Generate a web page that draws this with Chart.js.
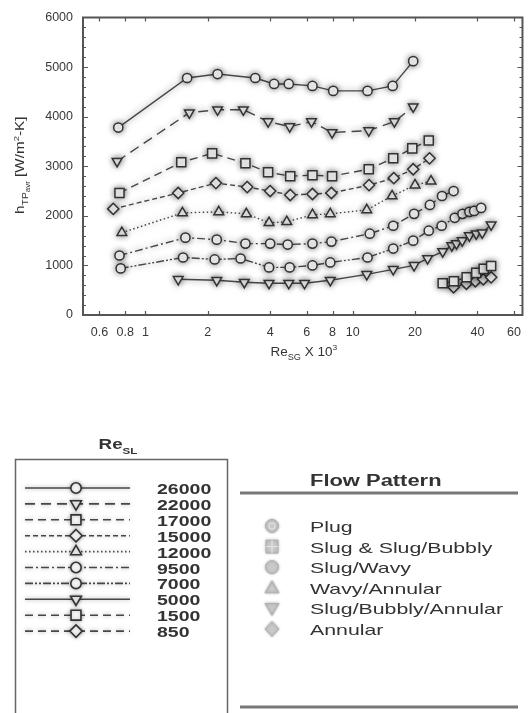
<!DOCTYPE html>
<html>
<head>
<meta charset="utf-8">
<script src="https://cdn.jsdelivr.net/npm/chart.js"></script>
<style>
  html, body { margin: 0; padding: 0; background: #fff; }
  #wrap { width: 531px; height: 713px; position: relative; }
</style>
</head>
<body>
<div id="wrap"><canvas id="c" width="531" height="713"></canvas></div>
<script>
const FONT = '"Liberation Sans", Arial, Helvetica, sans-serif';

// Liquid Reynolds numbers of the curves
const reSL = [26000, 22000, 17000, 15000, 12000, 9500, 7000, 5000, 1500, 850];

// Gas Reynolds number (x 10^3) and average two-phase heat transfer coefficient (W/m2-K)
const reSG_26000 = [0.74, 1.59, 2.23, 3.39, 4.18, 4.92, 6.4, 8.06, 11.8, 15.6, 19.6];
const h_26000    = [3780, 4780, 4860, 4780, 4660, 4660, 4620, 4520, 4520, 4620, 5120];

const reSG_22000 = [0.73, 1.63, 2.23, 2.97, 3.91, 4.97, 6.33, 7.96, 11.96, 15.9, 19.6];
const h_22000    = [3100, 4080, 4140, 4140, 3900, 3800, 3900, 3680, 3720, 3900, 4200];

const reSG_17000 = [0.75, 1.49, 2.1, 3.04, 3.91, 5.0, 6.4, 7.96, 11.96, 15.7, 19.4, 23.3];
const h_17000    = [2460, 3080, 3260, 3060, 2880, 2800, 2820, 2800, 2940, 3160, 3360, 3520];

const reSG_15000 = [0.70, 1.44, 2.19, 3.1, 4.0, 5.0, 6.4, 7.9, 12.0, 15.8, 19.6, 23.5];
const h_15000    = [2140, 2460, 2660, 2580, 2500, 2420, 2440, 2460, 2620, 2760, 2940, 3160];

const reSG_12000 = [0.77, 1.51, 2.26, 3.07, 3.95, 4.81, 6.4, 7.8, 11.7, 15.5, 20.0, 23.9];
const h_12000    = [1660, 2060, 2080, 2040, 1860, 1880, 2020, 2040, 2120, 2400, 2620, 2700];

const reSG_9500  = [0.75, 1.56, 2.21, 3.04, 4.0, 4.86, 6.4, 7.9, 12.1, 15.7, 19.8, 23.6, 27.0, 30.7];
const h_9500     = [1200, 1560, 1520, 1440, 1440, 1420, 1440, 1480, 1640, 1800, 2040, 2220, 2400, 2500];

const reSG_7000  = [0.76, 1.52, 2.16, 2.88, 3.95, 4.97, 6.4, 7.8, 11.8, 15.7, 19.6, 23.3, 26.9, 31.1, 33.9, 36.6, 38.6, 41.7];
const h_7000     = [940, 1160, 1120, 1140, 960, 960, 1000, 1060, 1160, 1340, 1500, 1700, 1800, 1960, 2040, 2080, 2100, 2160];

const reSG_5000  = [1.44, 2.21, 3.0, 3.95, 4.92, 5.86, 7.8, 11.7, 15.7, 19.8, 23.0, 27.2, 30.1, 31.7, 33.8, 36.6, 39.5, 42.2, 46.6];
const h_5000     = [720, 700, 660, 640, 640, 640, 700, 820, 920, 1000, 1140, 1280, 1400, 1440, 1500, 1600, 1640, 1660, 1820];

const reSG_1500  = [27.2, 30.8, 35.5, 39.5, 42.9, 46.6];
const h_1500     = [640, 680, 760, 850, 930, 990];

const reSG_850   = [30.7, 35.4, 39.1, 42.7, 46.6];
const h_850      = [560, 630, 680, 720, 760];

// Axis ticks
const xTicks = [0.6, 0.8, 1, 2, 4, 6, 8, 10, 20, 40, 60];
const yTicks = [0, 1000, 2000, 3000, 4000, 5000, 6000];

// Flow pattern categories
const flowPatterns = ['Plug', 'Slug & Slug/Bubbly', 'Slug/Wavy', 'Wavy/Annular', 'Slug/Bubbly/Annular', 'Annular'];

// ---- styling ----
const seriesX = [reSG_26000, reSG_22000, reSG_17000, reSG_15000, reSG_12000, reSG_9500, reSG_7000, reSG_5000, reSG_1500, reSG_850];
const seriesH = [h_26000, h_22000, h_17000, h_15000, h_12000, h_9500, h_7000, h_5000, h_1500, h_850];
const markerStyle = ['circle', 'triangle', 'rect', 'rectRot', 'triangle', 'circle', 'circle', 'triangle', 'rect', 'rectRot'];
const markerRot   = [0, 180, 0, 0, 0, 0, 0, 180, 0, 0];
const lineDash    = [[], [10, 6], [8, 5], [5, 3], [1.5, 2.5], [8, 3, 2, 3], [8, 2, 2, 2, 2, 2], [], [8, 5], [8, 5]];
const markerSize  = { circle: 4.6, triangle: 5.6, rect: 6.4, rectRot: 5.6 };
const flowShapes  = ['gear', 'rect', 'circle', 'triUp', 'triDown', 'diamond'];

const LINE = '#474747';
const INK = '#333';

const datasets = reSL.map((re, i) => ({
  label: String(re),
  data: seriesX[i].map((x, k) => ({ x: x, y: seriesH[i][k] })),
  borderColor: LINE,
  borderWidth: 1.4,
  borderDash: lineDash[i],
  pointStyle: markerStyle[i],
  rotation: markerRot[i],
  pointRadius: markerSize[markerStyle[i]],
  pointBorderWidth: 1.5,
  pointBorderColor: INK,
  pointBackgroundColor: '#fff',
  fill: false,
  tension: 0
}));

// soft grey halo around curves and symbols
const glow = {
  id: 'glow',
  beforeDatasetDraw(chart) {
    const c = chart.ctx;
    c.save();
    c.shadowColor = 'rgba(0,0,0,0.5)';
    c.shadowBlur = 6;
  },
  afterDatasetDraw(chart) { chart.ctx.restore(); }
};

function markerPath(ctx, style, rot, x, y, r) {
  ctx.beginPath();
  if (style === 'circle') {
    ctx.arc(x, y, r, 0, Math.PI * 2);
  } else if (style === 'triangle') {
    for (let i = 0; i < 3; i++) {
      const a = (rot ? Math.PI : 0) + i * 2 * Math.PI / 3;
      const vx = x + Math.sin(a) * r, vy = y - Math.cos(a) * r;
      if (i) ctx.lineTo(vx, vy); else ctx.moveTo(vx, vy);
    }
    ctx.closePath();
  } else if (style === 'rect') {
    const s = r * Math.SQRT1_2;
    ctx.rect(x - s, y - s, 2 * s, 2 * s);
  } else if (style === 'rectRot') {
    ctx.moveTo(x, y - r); ctx.lineTo(x + r, y); ctx.lineTo(x, y + r); ctx.lineTo(x - r, y);
    ctx.closePath();
  }
}

// text made of runs (sub/superscripts), centred on (x, y) baseline
function richText(ctx, parts, x, y, size, weight, sx, rot) {
  ctx.save();
  ctx.translate(x, y);
  if (rot) ctx.rotate(rot);
  ctx.scale(sx, 1);
  let total = 0;
  parts.forEach(p => {
    ctx.font = `${weight} ${size * p.k}px ${FONT}`;
    p.w = ctx.measureText(p.t).width;
    total += p.w;
  });
  let cx = -total / 2;
  ctx.textAlign = 'left';
  ctx.textBaseline = 'alphabetic';
  parts.forEach(p => {
    ctx.font = `${weight} ${size * p.k}px ${FONT}`;
    ctx.fillText(p.t, cx, p.dy * size);
    cx += p.w;
  });
  ctx.restore();
}

function wideText(ctx, text, x, y, font, sx) {
  ctx.save();
  ctx.translate(x, y);
  ctx.scale(sx, 1);
  ctx.font = font;
  ctx.textAlign = 'left';
  ctx.textBaseline = 'alphabetic';
  ctx.fillText(text, 0, 0);
  ctx.restore();
}

function flowSymbol(ctx, shape, x, y) {
  ctx.save();
  ctx.fillStyle = '#c9c9c9';
  ctx.strokeStyle = '#b0b0b0';
  ctx.lineWidth = 1;
  ctx.shadowColor = 'rgba(0,0,0,0.25)';
  ctx.shadowBlur = 3;
  ctx.beginPath();
  if (shape === 'gear' || shape === 'circle') {
    ctx.arc(x, y, 6.5, 0, Math.PI * 2);
  } else if (shape === 'rect') {
    ctx.rect(x - 6, y - 6.5, 12, 13);
  } else if (shape === 'triUp') {
    ctx.moveTo(x, y - 7); ctx.lineTo(x + 7, y + 5); ctx.lineTo(x - 7, y + 5); ctx.closePath();
  } else if (shape === 'triDown') {
    ctx.moveTo(x, y + 7); ctx.lineTo(x + 7, y - 5); ctx.lineTo(x - 7, y - 5); ctx.closePath();
  } else if (shape === 'diamond') {
    ctx.moveTo(x, y - 7.5); ctx.lineTo(x + 7, y); ctx.lineTo(x, y + 7.5); ctx.lineTo(x - 7, y); ctx.closePath();
  }
  ctx.fill();
  ctx.stroke();
  if (shape === 'gear' || shape === 'rect') {
    ctx.shadowBlur = 0;
    ctx.strokeStyle = '#e6e6e6';
    ctx.beginPath();
    if (shape === 'gear') {
      ctx.arc(x, y, 3, 0, Math.PI * 2);
    } else {
      ctx.moveTo(x - 6, y); ctx.lineTo(x + 6, y);
      ctx.moveTo(x, y - 6.5); ctx.lineTo(x, y + 6.5);
    }
    ctx.stroke();
  }
  ctx.restore();
}

const decor = {
  id: 'decor',
  afterDraw(chart) {
    const ctx = chart.ctx;
    const a = chart.chartArea;
    const sx = chart.scales.x, sy = chart.scales.y;

    // plot frame with inward ticks on all four sides
    ctx.save();
    ctx.strokeStyle = '#555';
    ctx.lineWidth = 2;
    ctx.strokeRect(a.left, a.top, a.right - a.left, a.bottom - a.top);
    ctx.lineWidth = 1.2;
    ctx.beginPath();
    xTicks.forEach(v => {
      const px = Math.round(sx.getPixelForValue(v)) + 0.5;
      ctx.moveTo(px, a.bottom); ctx.lineTo(px, a.bottom - 4);
      ctx.moveTo(px, a.top); ctx.lineTo(px, a.top + 4);
    });
    for (let v = 200; v < 6000; v += 200) {
      const py = Math.round(sy.getPixelForValue(v)) + 0.5;
      const len = v % 1000 === 0 ? 5 : 3;
      ctx.moveTo(a.left, py); ctx.lineTo(a.left + len, py);
      ctx.moveTo(a.right, py); ctx.lineTo(a.right - len, py);
    }
    ctx.stroke();
    ctx.restore();

    // axis titles
    ctx.save();
    ctx.fillStyle = INK;
    richText(ctx, [
      { t: 'h', k: 1, dy: 0 },
      { t: 'TP', k: 0.68, dy: 0.28 },
      { t: 'avr', k: 0.52, dy: 0.5 },
      { t: ' [W/m', k: 1, dy: 0 },
      { t: '2', k: 0.62, dy: -0.42 },
      { t: '-K]', k: 1, dy: 0 }
    ], 24, (a.top + a.bottom) / 2 - 1, 12.5, 'normal', 1.22, -Math.PI / 2);
    richText(ctx, [
      { t: 'Re', k: 1, dy: 0 },
      { t: 'SG', k: 0.68, dy: 0.3 },
      { t: ' X 10', k: 1, dy: 0 },
      { t: '3', k: 0.62, dy: -0.45 }
    ], (a.left + a.right) / 2 + 1, 356, 12.5, 'normal', 1.08, 0);
    ctx.restore();

    // ---- Re_SL key ----
    ctx.save();
    ctx.strokeStyle = '#666';
    ctx.lineWidth = 1.5;
    ctx.beginPath();
    ctx.moveTo(15.5, 713); ctx.lineTo(15.5, 459.5); ctx.lineTo(227.5, 459.5); ctx.lineTo(227.5, 713);
    ctx.stroke();
    ctx.fillStyle = INK;
    richText(ctx, [
      { t: 'Re', k: 1, dy: 0 },
      { t: 'SL', k: 0.62, dy: 0.3 }
    ], 118, 449, 15, 'bold', 1.25, 0);

    reSL.forEach((re, i) => {
      const base = 494 + i * 15.9;
      const ly = base - 6;
      ctx.save();
      ctx.shadowColor = 'rgba(0,0,0,0.35)';
      ctx.shadowBlur = 4;
      ctx.strokeStyle = LINE;
      ctx.lineWidth = 1.6;
      ctx.setLineDash(lineDash[i]);
      ctx.beginPath();
      ctx.moveTo(25, ly); ctx.lineTo(130, ly);
      ctx.stroke();
      ctx.setLineDash([]);
      ctx.fillStyle = '#fff';
      ctx.strokeStyle = INK;
      ctx.lineWidth = 1.6;
      markerPath(ctx, markerStyle[i], markerRot[i], 76, ly, markerSize[markerStyle[i]] + 0.6);
      ctx.fill();
      ctx.stroke();
      ctx.restore();
      ctx.fillStyle = INK;
      wideText(ctx, String(re), 157, base, `bold 15px ${FONT}`, 1.3);
    });
    ctx.restore();

    // ---- flow pattern key ----
    ctx.save();
    ctx.fillStyle = INK;
    wideText(ctx, 'Flow Pattern', 310, 486, `bold 16px ${FONT}`, 1.37);
    ctx.strokeStyle = '#777';
    ctx.lineWidth = 3;
    ctx.beginPath();
    ctx.moveTo(240, 493); ctx.lineTo(518, 493);
    ctx.moveTo(240, 707); ctx.lineTo(518, 707);
    ctx.stroke();
    flowPatterns.forEach((name, i) => {
      const base = 532 + i * 20.6;
      flowSymbol(ctx, flowShapes[i], 272, base - 6);
      ctx.fillStyle = INK;
      wideText(ctx, name, 310, base, `15px ${FONT}`, 1.42);
    });
    ctx.restore();
  }
};

new Chart(document.getElementById('c'), {
  type: 'line',
  data: { datasets: datasets },
  options: {
    responsive: false,
    animation: false,
    devicePixelRatio: 1,
    layout: { padding: { top: 15, right: 2, left: 0, bottom: 368 } },
    plugins: { legend: { display: false }, tooltip: { enabled: false } },
    scales: {
      x: {
        type: 'logarithmic',
        min: 0.5,
        max: 66,
        grid: { display: false, drawTicks: false },
        border: { display: false },
        afterBuildTicks: s => { s.ticks = xTicks.map(v => ({ value: v })); },
        afterFit: s => { s.height = 30; },
        ticks: {
          autoSkip: false, maxRotation: 0, padding: 10, color: '#383838',
          font: { family: FONT, size: 12.5 },
          callback: v => String(v)
        }
      },
      y: {
        min: 0,
        max: 6000,
        grid: { display: false, drawTicks: false },
        border: { display: false },
        afterBuildTicks: s => { s.ticks = yTicks.map(v => ({ value: v })); },
        afterFit: s => { s.width = 83; },
        ticks: {
          padding: 10, color: '#383838',
          font: { family: FONT, size: 12.5 },
          callback: v => String(v)
        }
      }
    }
  },
  plugins: [glow, decor]
});
</script>
</body>
</html>
